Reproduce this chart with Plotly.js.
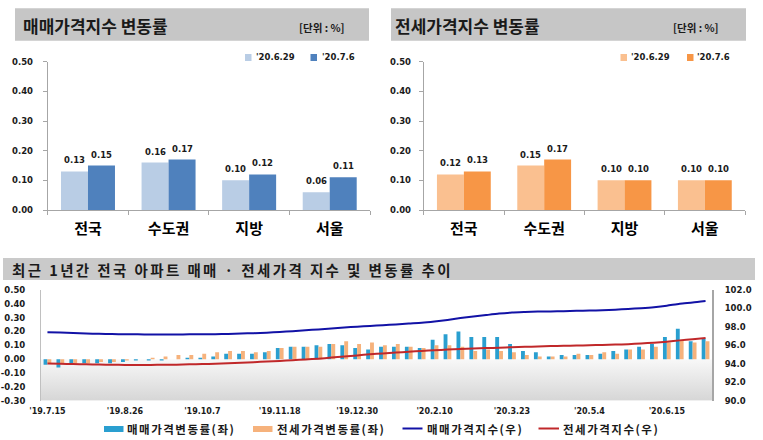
<!DOCTYPE html>
<html>
<head>
<meta charset="utf-8">
<script src="https://cdn.plot.ly/plotly-3.0.1.min.js"></script>
<style>
  html, body { margin: 0; padding: 0; background: #fff; }
  #chart { width: 763px; height: 440px; }
  .annotation[data-index="0"] text { letter-spacing: 2.4px; }
  .annotation[data-index="1"] text, .annotation[data-index="2"] text,
  .annotation[data-index="3"] text, .annotation[data-index="4"] text { letter-spacing: 1.5px; }
</style>
</head>
<body>
<div id="chart"></div>
<script>
// ---------- DATA ----------
const regions = ['전국', '수도권', '지방', '서울'];
const saleRate0629 = [0.13, 0.16, 0.10, 0.06];
const saleRate0706 = [0.15, 0.17, 0.12, 0.11];
const jeonseRate0629 = [0.12, 0.15, 0.10, 0.10];
const jeonseRate0706 = [0.13, 0.17, 0.10, 0.10];
const topSeriesNames = ["'20.6.29", "'20.7.6"];

const weeks = ["'19.7.15","'19.7.22","'19.7.29","'19.8.5","'19.8.12","'19.8.19","'19.8.26","'19.9.2","'19.9.9","'19.9.16","'19.9.23","'19.9.30",
  "'19.10.7","'19.10.14","'19.10.21","'19.10.28","'19.11.4","'19.11.11","'19.11.18","'19.11.25","'19.12.2","'19.12.9","'19.12.16","'19.12.23",
  "'19.12.30","'20.1.6","'20.1.13","'20.1.20","'20.1.27","'20.2.3","'20.2.10","'20.2.17","'20.2.24","'20.3.2","'20.3.9","'20.3.16",
  "'20.3.23","'20.3.30","'20.4.6","'20.4.13","'20.4.20","'20.4.27","'20.5.4","'20.5.11","'20.5.18","'20.5.25","'20.6.1","'20.6.8",
  "'20.6.15","'20.6.22","'20.6.29","'20.7.6"];
const weekTickLabels = ["'19.7.15","'19.8.26","'19.10.7","'19.11.18","'19.12.30","'20.2.10","'20.3.23","'20.5.4","'20.6.15"];
const rateTickVals = [-0.3, -0.2, -0.1, 0, 0.1, 0.2, 0.3, 0.4, 0.5];
const rateTickText = ['-0.30', '-0.20', '-0.10', '0.00', '0.10', '0.20', '0.30', '0.40', '0.50'];

const saleChange = [-0.04,-0.06,-0.03,-0.03,-0.03,-0.03,-0.02,-0.01,-0.01,-0.01,0.00,0.01,
  0.01,0.02,0.04,0.04,0.04,0.05,0.08,0.09,0.09,0.10,0.11,0.10,
  0.08,0.07,0.09,0.09,0.09,0.08,0.14,0.18,0.20,0.16,0.16,0.16,
  0.11,0.06,0.05,0.02,0.03,0.03,0.03,0.04,0.06,0.07,0.09,0.11,
  0.16,0.22,0.13,0.15];
const jeonseChange = [-0.03,-0.03,-0.03,-0.03,-0.02,-0.02,-0.01,0.00,0.01,0.02,0.03,0.03,
  0.04,0.05,0.06,0.06,0.05,0.06,0.08,0.09,0.09,0.09,0.11,0.13,
  0.11,0.12,0.10,0.11,0.09,0.08,0.10,0.10,0.09,0.06,0.07,0.06,
  0.05,0.03,0.02,0.02,0.02,0.04,0.03,0.05,0.04,0.07,0.07,0.09,
  0.12,0.14,0.12,0.13];
const saleIndex = [97.42,97.38,97.33,97.29,97.25,97.22,97.20,97.19,97.18,97.18,97.18,97.19,
  97.20,97.21,97.24,97.28,97.32,97.37,97.45,97.54,97.63,97.73,97.84,97.94,
  98.02,98.10,98.18,98.27,98.36,98.44,98.58,98.76,98.96,99.12,99.28,99.44,
  99.55,99.61,99.66,99.68,99.71,99.74,99.77,99.81,99.87,99.94,100.03,100.14,
  100.30,100.52,100.65,100.82];
const jeonseIndex = [94.03,94.00,93.97,93.94,93.92,93.90,93.88,93.87,93.88,93.89,93.91,93.94,
  93.97,94.01,94.06,94.12,94.18,94.24,94.31,94.39,94.47,94.56,94.67,94.79,
  94.91,95.03,95.13,95.22,95.31,95.40,95.47,95.54,95.60,95.65,95.70,95.75,
  95.80,95.84,95.88,95.92,95.95,95.98,96.01,96.04,96.08,96.13,96.20,96.29,
  96.40,96.54,96.67,96.80];
const legendNames = ['매매가격변동률(좌)', '전세가격변동률(좌)', '매매가격지수(우)', '전세가격지수(우)'];

// ---------- STYLE ----------
const W = 763, H = 440;
const px = x => x / W;
const py = y => 1 - y / H;
const NUM = 'DejaVu Sans, Noto Sans CJK KR, sans-serif';
const KR = 'Noto Sans CJK KR, sans-serif';
const TXT = '#1a1a1a';
const AX = '#a6a6a6';
const C = {
  sLight: '#b9cde5', sDark: '#4f81bd', jLight: '#fac090', jDark: '#f79646',
  bBlue: '#2a9fd0', bOrange: '#f6b27c', lBlue: '#1212a6', lRed: '#c0282a'
};
const topW = 0.335;

const traces = [
  {type: 'bar', x: regions, y: saleRate0629, xaxis: 'x', yaxis: 'y', width: topW, offset: -topW, marker: {color: C.sLight}, name: topSeriesNames[0]},
  {type: 'bar', x: regions, y: saleRate0706, xaxis: 'x', yaxis: 'y', width: topW, offset: 0, marker: {color: C.sDark}, name: topSeriesNames[1]},
  {type: 'bar', x: regions, y: jeonseRate0629, xaxis: 'x2', yaxis: 'y2', width: topW, offset: -topW, marker: {color: C.jLight}, name: topSeriesNames[0]},
  {type: 'bar', x: regions, y: jeonseRate0706, xaxis: 'x2', yaxis: 'y2', width: topW, offset: 0, marker: {color: C.jDark}, name: topSeriesNames[1]},
  {type: 'bar', x: weeks, y: saleChange, xaxis: 'x3', yaxis: 'y3', width: 0.3, offset: -0.3, marker: {color: C.bBlue}, name: legendNames[0]},
  {type: 'bar', x: weeks, y: jeonseChange, xaxis: 'x3', yaxis: 'y3', width: 0.3, offset: 0, marker: {color: C.bOrange}, name: legendNames[1]},
  {type: 'scatter', mode: 'lines', x: weeks, y: saleIndex, xaxis: 'x3', yaxis: 'y4', line: {color: C.lBlue, width: 2, shape: 'spline', smoothing: 0.6}, name: legendNames[2]},
  {type: 'scatter', mode: 'lines', x: weeks, y: jeonseIndex, xaxis: 'x3', yaxis: 'y4', line: {color: C.lRed, width: 2, shape: 'spline', smoothing: 0.6}, name: legendNames[3]}
];

const numFont = (s) => ({family: NUM, size: s, color: TXT, weight: 'bold'});
const krFont = (s) => ({family: KR, size: s, color: TXT, weight: 'bold'});

const annotations = [];
function ann(o) { annotations.push(Object.assign({showarrow: false, xref: 'paper', yref: 'paper'}, o)); }

// index 0: bottom title; 1-4 bottom legend texts
ann({text: '최근 1년간 전국 아파트 매매 · 전세가격 지수 및 변동률 추이', x: px(10), y: py(269), xanchor: 'left', align: 'left', yanchor: 'middle', font: krFont(14.5)});
const legX = [125, 274.5, 424.5, 560.7];
legendNames.forEach((n, i) => ann({text: n, x: px(legX[i]), y: py(429), xanchor: 'left', align: 'left', yanchor: 'middle', font: krFont(11.5)}));

// top titles
ann({text: '매매가격지수 변동률', x: px(20.5), y: py(25.5), xanchor: 'left', align: 'left', yanchor: 'middle', font: krFont(17)});
ann({text: '[단위 : %]', x: px(297), y: py(27), xanchor: 'left', align: 'left', yanchor: 'middle', font: krFont(10.5)});
ann({text: '전세가격지수 변동률', x: px(393.5), y: py(25.5), xanchor: 'left', align: 'left', yanchor: 'middle', font: krFont(17)});
ann({text: '[단위 : %]', x: px(671), y: py(27), xanchor: 'left', align: 'left', yanchor: 'middle', font: krFont(10.5)});

// top legends
const topLeg = [[254, topSeriesNames[0]], [320, topSeriesNames[1]], [628.5, topSeriesNames[0]], [695, topSeriesNames[1]]];
topLeg.forEach(([x, t]) => ann({text: t, x: px(x), y: py(57.5), xanchor: 'left', align: 'left', yanchor: 'middle', font: numFont(8.5)}));

// data labels
function labels(vals, xr, yr, shift) {
  vals.forEach((v, i) => ann({text: v.toFixed(2), x: regions[i], y: v, xref: xr, yref: yr, xshift: shift, yanchor: 'bottom', yshift: 4, font: numFont(8.5)}));
}
labels(saleRate0629, 'x', 'y', -13.5);
labels(saleRate0706, 'x', 'y', 13.5);
labels(jeonseRate0629, 'x2', 'y2', -13.5);
labels(jeonseRate0706, 'x2', 'y2', 13.5);

const shapes = [
  {type: 'rect', xref: 'paper', yref: 'paper', x0: px(15), x1: px(369), y0: py(40.7), y1: py(8.3), fillcolor: '#c6c6c6', line: {width: 0}, layer: 'below'},
  {type: 'rect', xref: 'paper', yref: 'paper', x0: px(391), x1: px(746), y0: py(40.7), y1: py(8.3), fillcolor: '#c6c6c6', line: {width: 0}, layer: 'below'},
  {type: 'rect', xref: 'paper', yref: 'paper', x0: px(3), x1: px(755), y0: py(280), y1: py(258), fillcolor: '#cacaca', line: {width: 0}, layer: 'below'},
  // top legend swatches
  {type: 'rect', xref: 'paper', yref: 'paper', x0: px(245), x1: px(251.5), y0: py(61), y1: py(54), fillcolor: C.sLight, line: {width: 0}},
  {type: 'rect', xref: 'paper', yref: 'paper', x0: px(310.5), x1: px(317), y0: py(61), y1: py(54), fillcolor: C.sDark, line: {width: 0}},
  {type: 'rect', xref: 'paper', yref: 'paper', x0: px(620.5), x1: px(627), y0: py(61), y1: py(54), fillcolor: C.jLight, line: {width: 0}},
  {type: 'rect', xref: 'paper', yref: 'paper', x0: px(687), x1: px(693.5), y0: py(61), y1: py(54), fillcolor: C.jDark, line: {width: 0}},
  // bottom legend swatches
  {type: 'rect', xref: 'paper', yref: 'paper', x0: px(104), x1: px(123.5), y0: py(432), y1: py(426), fillcolor: C.bBlue, line: {width: 0}},
  {type: 'rect', xref: 'paper', yref: 'paper', x0: px(253), x1: px(272.5), y0: py(432), y1: py(426), fillcolor: C.bOrange, line: {width: 0}},
  {type: 'line', xref: 'paper', yref: 'paper', x0: px(402.5), x1: px(422.5), y0: py(428.5), y1: py(428.5), line: {color: C.lBlue, width: 2}},
  {type: 'line', xref: 'paper', yref: 'paper', x0: px(538.5), x1: px(559), y0: py(428.5), y1: py(428.5), line: {color: C.lRed, width: 2}}
];

const gradSvg = "<svg xmlns='http://www.w3.org/2000/svg' width='10' height='10' viewBox='0 0 10 10' preserveAspectRatio='none'>" +
  "<defs><linearGradient id='g' x1='0' y1='0' x2='0' y2='1'><stop offset='0' stop-color='#f8f8f8'/><stop offset='1' stop-color='#d6d6d6'/></linearGradient></defs>" +
  "<rect width='10' height='10' fill='url(#g)'/></svg>";

const topX = {type: 'category', showline: true, linecolor: AX, linewidth: 1, ticks: 'outside', tickson: 'boundaries', ticklen: 4, tickcolor: AX,
  tickfont: {family: KR, size: 15, color: '#000', weight: 'bold'}, ticklabelstandoff: 5, showgrid: false, fixedrange: true};
const topY = {range: [0, 0.5], dtick: 0.1, tickformat: '.2f', showgrid: false, zeroline: false, showline: true, linecolor: AX,
  ticks: 'outside', ticklen: 4, tickcolor: AX, tickfont: numFont(8.5), ticklabelstandoff: 8, fixedrange: true};

const zeroPos = py(400.7) + (0.3 / 0.8) * (py(290) - py(400.7));

const layout = {
  width: W, height: H, margin: {l: 0, r: 0, t: 0, b: 0},
  paper_bgcolor: '#ffffff', plot_bgcolor: 'rgba(0,0,0,0)',
  showlegend: false, barmode: 'overlay',
  xaxis: Object.assign({}, topX, {domain: [px(47.7), px(370)], anchor: 'y'}),
  yaxis: Object.assign({}, topY, {domain: [py(210), py(61.7)], anchor: 'x'}),
  xaxis2: Object.assign({}, topX, {domain: [px(423.7), px(745)], anchor: 'y2'}),
  yaxis2: Object.assign({}, topY, {domain: [py(210), py(61.7)], anchor: 'x2', ticklabelstandoff: 6}),
  xaxis3: {domain: [px(41), px(712)], anchor: 'y3', type: 'category', showline: false, ticks: '', showgrid: false, zeroline: false,
    tickmode: 'array', tickvals: weekTickLabels, ticktext: weekTickLabels, tickfont: numFont(8), ticklabelstandoff: 4, fixedrange: true},
  yaxis3: {domain: [py(400.7), py(290)], anchor: 'x3', range: [-0.3, 0.5], tickmode: 'array', tickvals: rateTickVals, ticktext: rateTickText,
    showgrid: false, zeroline: false, showline: true, linecolor: '#c0c0c0', ticks: '', tickfont: numFont(8.5), ticklabelstandoff: 13, fixedrange: true},
  yaxis4: {overlaying: 'y3', side: 'right', anchor: 'x3', range: [90, 102], dtick: 2, tickformat: '.1f', showgrid: false, zeroline: false,
    showline: true, linecolor: AX, linewidth: 2, ticks: '', tickfont: numFont(8.5), ticklabelstandoff: 9, fixedrange: true},
  xaxis4: {overlaying: 'x3', anchor: 'free', position: zeroPos, domain: [px(41), px(712)], type: 'linear', range: [-0.5, weeks.length - 0.5],
    tickmode: 'array', tickvals: weeks.map((_, i) => i - 0.5), ticks: 'outside', ticklen: 4, tickcolor: AX, showline: true, linecolor: AX,
    showticklabels: false, showgrid: false, zeroline: false, fixedrange: true},
  images: [{source: 'data:image/svg+xml;charset=utf-8,' + encodeURIComponent(gradSvg), xref: 'paper', yref: 'y3',
    x: px(41), y: 0, sizex: px(712) - px(41), sizey: 0.3, xanchor: 'left', yanchor: 'top', sizing: 'stretch', layer: 'below'}],
  shapes: shapes,
  annotations: annotations
};

Plotly.newPlot('chart', traces, layout, {staticPlot: true, displayModeBar: false});
</script>
</body>
</html>
